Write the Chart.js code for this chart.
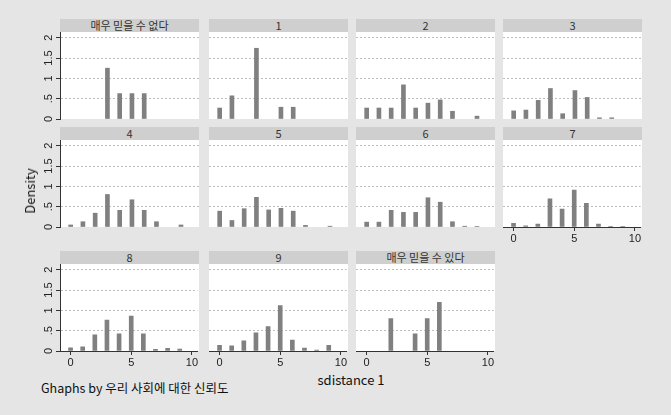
<!DOCTYPE html>
<html>
<head>
<meta charset="utf-8">
<script src="https://cdn.jsdelivr.net/npm/chart.js@4/dist/chart.umd.min.js"></script>
<style>
  html, body { margin: 0; padding: 0; }
  body { width: 671px; height: 415px; background: #e5e5e5; position: relative; overflow: hidden;
         font-family: "Noto Sans CJK KR", "Liberation Sans", sans-serif; }
  .plotbg { position: absolute; background: #ffffff; }
  .strip { position: absolute; height: 13px; line-height: 13px; background: #cfcfcf; color: #333;
           font-size: 11px; text-align: center; white-space: nowrap; }
  canvas { position: absolute; }
  .txt { position: absolute; white-space: nowrap; color: #111; }
</style>
</head>
<body>
<script>
// Score values on the 0-10 scale (x axis)
const scores = [0, 1, 2, 3, 4, 5, 6, 7, 8, 9, 10];

// Panel titles: levels of 우리 사회에 대한 신뢰도
const panelTitles = ['매우 믿을 수 없다', '1', '2', '3', '4', '5', '6', '7', '8', '9', '매우 믿을 수 있다'];

// Density of sdistance 1 at each score, one array per panel
const densVeryLow = [null, null, null, 1.25, 0.625, 0.625, 0.625, null, null, null, null];
const dens1 = [0.27, 0.57, null, 1.74, null, 0.29, 0.29, null, null, null, null];
const dens2 = [0.27, 0.27, 0.27, 0.84, 0.27, 0.39, 0.47, 0.19, null, 0.07, null];
const dens3 = [0.20, 0.22, 0.46, 0.75, 0.13, 0.70, 0.53, 0.03, 0.03, null, null];
const dens4 = [0.05, 0.13, 0.34, 0.80, 0.41, 0.67, 0.41, 0.13, null, 0.05, null];
const dens5 = [0.39, 0.16, 0.45, 0.73, 0.42, 0.46, 0.39, 0.04, null, 0.02, null];
const dens6 = [0.12, 0.12, 0.41, 0.36, 0.36, 0.72, 0.61, 0.13, 0.02, 0.01, null];
const dens7 = [0.09, 0.03, 0.07, 0.69, 0.44, 0.91, 0.58, 0.07, 0.01, 0.01, null];
const dens8 = [0.08, 0.10, 0.40, 0.76, 0.42, 0.86, 0.42, 0.04, 0.066, 0.05, null];
const dens9 = [0.14, 0.13, 0.25, 0.45, 0.60, 1.12, 0.27, 0.07, 0.025, 0.14, null];
const densVeryHigh = [null, null, 0.80, null, 0.42, 0.80, 1.20, null, null, null, null];

const panelDensities = [densVeryLow, dens1, dens2, dens3, dens4, dens5, dens6, dens7, dens8, dens9, densVeryHigh];

// Axis ticks
const yTickValues = [0, 0.5, 1, 1.5, 2];
const yTickLabels = ['0', '.5', '1', '1.5', '2'];
const xTickValues = [0, 5, 10];
const xTickLabels = ['0', '5', '10'];

// Grid layout of the small multiples
const colLeft = [60, 209, 356, 503];
const rowTop = [32, 140, 264];
const plotW = 139, plotH = 87;
const yAxisW = 30, xAxisH = 16, labelRoom = 5;
const xMin = -0.87, xMax = 10.47, yMax = 2.14;

const barColor = '#808080';
const axisColor = '#333333';
const gridColor = 'rgba(0,0,0,0.26)';
const tickFont = { family: 'Liberation Sans', size: 11 };

function hasXAxis(i) { return i >= 7; }

// Vertical (bottom-to-top) tick labels for the density axis
const rotatedYLabels = {
  id: 'rotatedYLabels',
  afterDraw(chart, args, opts) {
    if (!opts.show) return;
    const s = chart.scales.y;
    const ctx = chart.ctx;
    ctx.save();
    ctx.fillStyle = '#222';
    ctx.font = tickFont.size + 'px ' + tickFont.family;
    ctx.textAlign = 'center';
    ctx.textBaseline = 'middle';
    s.ticks.forEach((t, idx) => {
      const y = s.getPixelForValue(t.value);
      ctx.save();
      ctx.translate(s.right - 11, y);
      ctx.rotate(-Math.PI / 2);
      ctx.fillText(yTickLabels[idx], 0, 0);
      ctx.restore();
    });
    ctx.restore();
  }
};

panelDensities.forEach((dens, i) => {
  const col = i % 4, row = Math.floor(i / 4);
  const L = colLeft[col], T = rowTop[row];
  const showY = col === 0;
  const showX = hasXAxis(i);
  // spare room below the plot so the rotated "0" is not cut off
  const padB = (showY && !showX) ? labelRoom : 0;

  const bg = document.createElement('div');
  bg.className = 'plotbg';
  Object.assign(bg.style, { left: L + 'px', top: T + 'px', width: plotW + 'px', height: plotH + 'px' });
  document.body.appendChild(bg);

  const strip = document.createElement('div');
  strip.className = 'strip';
  Object.assign(strip.style, { left: L + 'px', top: (T - 13) + 'px', width: plotW + 'px' });
  strip.textContent = panelTitles[i];
  document.body.appendChild(strip);

  const cv = document.createElement('canvas');
  const cw = plotW + (showY ? yAxisW : 0);
  const ch = plotH + (showX ? xAxisH : 0) + padB;
  cv.width = cw; cv.height = ch;
  Object.assign(cv.style, { left: (L - (showY ? yAxisW : 0)) + 'px', top: T + 'px', width: cw + 'px', height: ch + 'px' });
  document.body.appendChild(cv);

  const points = [];
  scores.forEach((s, k) => { if (dens[k] !== null) points.push({ x: s, y: dens[k] }); });

  new Chart(cv, {
    type: 'bar',
    data: {
      datasets: [{
        data: points,
        backgroundColor: barColor,
        borderWidth: 0,
        barThickness: 4
      }]
    },
    plugins: [rotatedYLabels],
    options: {
      responsive: false,
      animation: false,
      devicePixelRatio: 1,
      layout: { padding: { left: 0, right: 0, top: 0, bottom: padB } },
      plugins: { legend: { display: false }, tooltip: { enabled: false }, rotatedYLabels: { show: showY } },
      scales: {
        x: {
          type: 'linear',
          display: showX,
          min: xMin, max: xMax,
          offset: false,
          afterBuildTicks: s => { s.ticks = xTickValues.map(v => ({ value: v })); },
          afterFit: s => { s.height = showX ? xAxisH : 0; },
          ticks: {
            autoSkip: false, maxRotation: 0, minRotation: 0, padding: 1,
            font: tickFont, color: '#222',
            callback: (v, idx) => xTickLabels[idx]
          },
          grid: { offset: false, drawOnChartArea: false, drawTicks: true, tickLength: 4, tickColor: axisColor },
          border: { display: true, color: axisColor, width: 1 }
        },
        y: {
          type: 'linear',
          min: 0, max: yMax,
          afterBuildTicks: s => { s.ticks = yTickValues.map(v => ({ value: v })); },
          afterFit: s => { s.width = showY ? yAxisW : 0; },
          ticks: { display: false, autoSkip: false },
          grid: {
            color: c => (c.tick && c.tick.value === 0) ? 'rgba(0,0,0,0)' : gridColor,
            lineWidth: 1,
            drawTicks: showY, tickLength: 4, tickColor: axisColor
          },
          border: { display: showY, color: axisColor, width: 1, dash: [2, 2] }
        }
      }
    }
  });
});

// Shared axis titles and note
function addText(text, css) {
  const d = document.createElement('div');
  d.className = 'txt';
  d.textContent = text;
  Object.assign(d.style, css);
  document.body.appendChild(d);
  return d;
}
addText('Density', { left: '30px', top: '191px', fontSize: '13px', transform: 'translate(-50%, -50%) rotate(-90deg)', lineHeight: '14px' });
addText('sdistance 1', { left: '351px', top: '380px', fontSize: '13px', transform: 'translate(-50%, -50%)', lineHeight: '14px' });
addText('Ghaphs by 우리 사회에 대한 신뢰도', { left: '41px', top: '388px', fontSize: '12.5px', transform: 'translate(0, -50%)', lineHeight: '14px' });
</script>
</body>
</html>
